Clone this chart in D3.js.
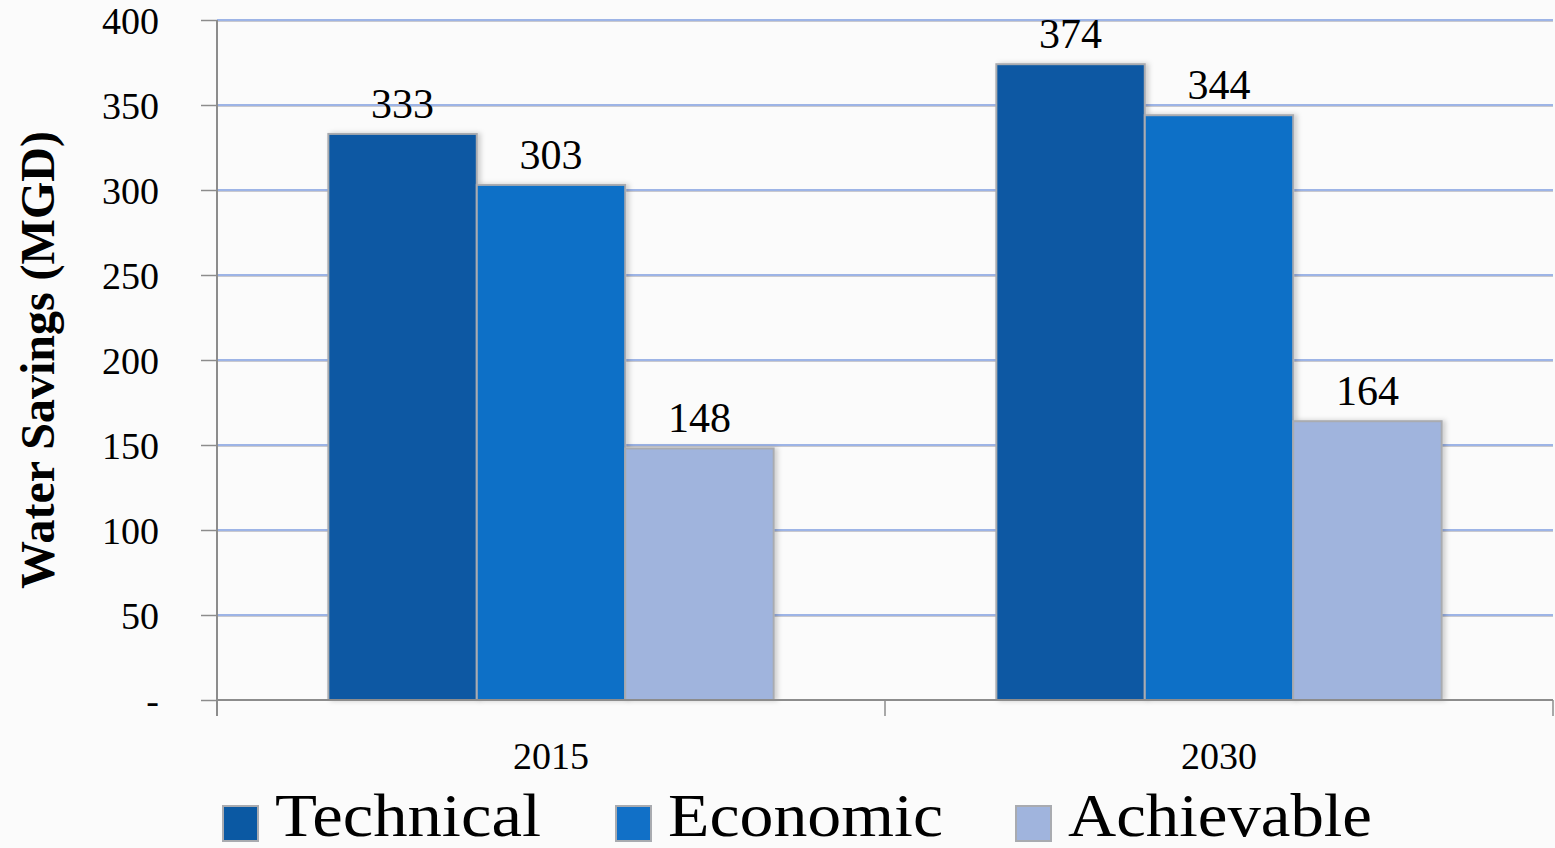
<!DOCTYPE html>
<html>
<head>
<meta charset="utf-8">
<script src="https://cdn.jsdelivr.net/npm/d3@7"></script>
<style>
  html, body { margin: 0; padding: 0; background: #fbfbfb; }
  svg { display: block; }
  text { font-family: "Liberation Serif", "DejaVu Serif", serif; fill: #000; }
</style>
</head>
<body>
<svg id="chart" width="1555" height="848"></svg>
<script>
// Water savings potential by year and scenario
const years = ["2015", "2030"];
const seriesNames = ["Technical", "Economic", "Achievable"];
const technical = [333, 374];
const economic = [303, 344];
const achievable = [148, 164];
const yTicks = [0, 50, 100, 150, 200, 250, 300, 350, 400];
const seriesColors = ["#0b59a3", "#1170c7", "#a0b4dd"];

const seriesValues = [technical, economic, achievable];
const rows = years.map((yr, i) => ({
  year: yr,
  values: seriesNames.map((s, k) => ({ series: s, value: seriesValues[k][i] }))
}));

const svg = d3.select("#chart");
const plotLeft = 217, plotRight = 1553, plotTop = 20, plotBottom = 700;

const x = d3.scaleBand().domain(years).range([plotLeft, plotRight]).paddingInner(0).paddingOuter(0);
const xInner = d3.scaleBand().domain(seriesNames)
  .range([0, x.bandwidth()]).paddingInner(0).paddingOuter(0.75);
const y = d3.scaleLinear().domain([0, 400]).range([plotBottom, plotTop]);

// gridlines
const grid = svg.append("g");
grid.selectAll("line.g2").data(yTicks.filter(d => d > 0)).join("line")
  .attr("class", "g2")
  .attr("x1", plotLeft).attr("x2", plotRight)
  .attr("y1", d => y(d) + 1.5).attr("y2", d => y(d) + 1.5)
  .attr("stroke", "#c9c9cf").attr("stroke-width", 1);
grid.selectAll("line.g1").data(yTicks.filter(d => d > 0)).join("line")
  .attr("class", "g1")
  .attr("x1", plotLeft).attr("x2", plotRight)
  .attr("y1", d => y(d)).attr("y2", d => y(d))
  .attr("stroke", "#9db4e6").attr("stroke-width", 2);

// bar shadow
const defs = svg.append("defs");
const f = defs.append("filter").attr("id", "shadow").attr("x", "-10%").attr("y", "-10%").attr("width", "130%").attr("height", "130%");
f.append("feDropShadow").attr("dx", 3).attr("dy", 0).attr("stdDeviation", 2.5)
  .attr("flood-color", "#000").attr("flood-opacity", 0.18);

// bars
const groups = svg.selectAll("g.year").data(rows).join("g")
  .attr("class", "year")
  .attr("transform", d => `translate(${x(d.year)},0)`);

groups.selectAll("rect").data(d => d.values).join("rect")
  .attr("x", d => xInner(d.series))
  .attr("y", d => y(d.value))
  .attr("width", xInner.bandwidth())
  .attr("height", d => y(0) - y(d.value))
  .attr("fill", (d, i) => seriesColors[i])
  .attr("stroke", "#a9abb0").attr("stroke-width", 2)
  .attr("filter", "url(#shadow)");

groups.selectAll("text.val").data(d => d.values).join("text")
  .attr("class", "val")
  .attr("x", d => xInner(d.series) + xInner.bandwidth() / 2)
  .attr("y", d => y(d.value) - 16)
  .attr("text-anchor", "middle")
  .attr("font-size", 42)
  .text(d => d.value);

// y axis
const yAxis = d3.axisLeft(y).tickValues(yTicks).tickSize(16)
  .tickFormat(d => d === 0 ? "-" : d);
const ya = svg.append("g").attr("transform", `translate(${plotLeft},0)`).call(yAxis);
ya.select(".domain").attr("stroke", "#8c8c8c").attr("stroke-width", 2)
  .attr("d", `M0,${plotTop}V${plotBottom + 16}`);
ya.selectAll(".tick line").attr("stroke", "#8c8c8c").attr("stroke-width", 1.5);
ya.selectAll(".tick text")
  .attr("x", -58).attr("dy", "0.35em")
  .attr("font-size", 38)
  .attr("font-family", "Liberation Serif, serif")
  .attr("fill", "#000");

// x axis
const xAxis = d3.axisBottom(x).tickSize(0).tickFormat("");
const xa = svg.append("g").attr("transform", `translate(0,${plotBottom})`).call(xAxis);
xa.select(".domain").attr("stroke", "#8c8c8c").attr("stroke-width", 2)
  .attr("d", `M${plotLeft},0H${plotRight}`);
const bounds = [plotLeft, x("2030"), plotRight];
xa.selectAll("line.sep").data(bounds).join("line")
  .attr("class", "sep")
  .attr("x1", d => d).attr("x2", d => d)
  .attr("y1", 0).attr("y2", 16)
  .attr("stroke", "#8c8c8c").attr("stroke-width", 1.5);

svg.append("g").selectAll("text").data(years).join("text")
  .attr("x", d => x(d) + x.bandwidth() / 2)
  .attr("y", 769)
  .attr("text-anchor", "middle")
  .attr("font-size", 38)
  .text(d => d);

// y axis title
svg.append("text")
  .attr("transform", "translate(54,360) rotate(-90)")
  .attr("text-anchor", "middle")
  .attr("font-size", 48)
  .attr("font-weight", "bold")
  .text("Water Savings (MGD)");

// legend
const legendX = [222, 615, 1015];
const legendTextLen = [266, 275, 304];
const legend = svg.append("g").selectAll("g").data(seriesNames).join("g")
  .attr("transform", (d, i) => `translate(${legendX[i]},0)`);
legend.append("rect")
  .attr("x", 1).attr("y", 806).attr("width", 35).attr("height", 35)
  .attr("fill", (d, i) => seriesColors[i])
  .attr("stroke", "#a9abb0").attr("stroke-width", 2);
legend.append("text")
  .attr("x", 53).attr("y", 836)
  .attr("font-size", 62)
  .attr("textLength", (d, i) => legendTextLen[i])
  .attr("lengthAdjust", "spacingAndGlyphs")
  .text(d => d);
</script>
</body>
</html>
